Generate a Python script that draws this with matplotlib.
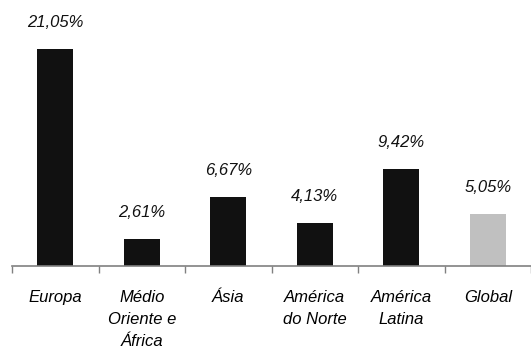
import numpy as np
import matplotlib.pyplot as plt

# Data
regioes = ['Europa', 'Médio\nOriente e\nÁfrica', 'Ásia', 'América\ndo Norte', 'América\nLatina', 'Global']
valores = [21.05, 2.61, 6.67, 4.13, 9.42, 5.05]
cores = ['#111111'] * 5 + ['#c0c0c0']

plt.rcParams['font.family'] = ['Liberation Sans', 'DejaVu Sans']

fig = plt.figure(figsize=(5.31, 3.48), dpi=100)
ax = fig.add_axes([12 / 531, 1 - 266 / 348, 1 - 12 / 531, 266 / 348])

x = np.arange(len(valores))
ax.bar(x, valores, width=0.42, color=cores)

for xi, v in zip(x, valores):
    ax.text(xi, v + 2.6, f'{v:.2f}%'.replace('.', ','), ha='center', va='center',
            fontsize=12, style='italic', color='#111111')

ax.set_xlim(-0.5, len(valores) - 0.5)
ax.set_ylim(0, 25.8)

# tick marks at category boundaries, labels at centres
ax.set_xticks(np.arange(len(valores) + 1) - 0.5)
ax.set_xticklabels([])
ax.tick_params(axis='x', which='major', direction='out', length=5, color='#808080', width=1)
ax.set_xticks(x, minor=True)
ax.set_xticklabels(regioes, minor=True, fontsize=12, style='italic', linespacing=1.62)
ax.tick_params(axis='x', which='minor', length=0, pad=17)

ax.set_yticks([])
for s in ['top', 'right', 'left']:
    ax.spines[s].set_visible(False)
ax.spines['bottom'].set_color('#808080')
ax.spines['bottom'].set_linewidth(1.2)

fig.savefig('out.png', dpi=100)
